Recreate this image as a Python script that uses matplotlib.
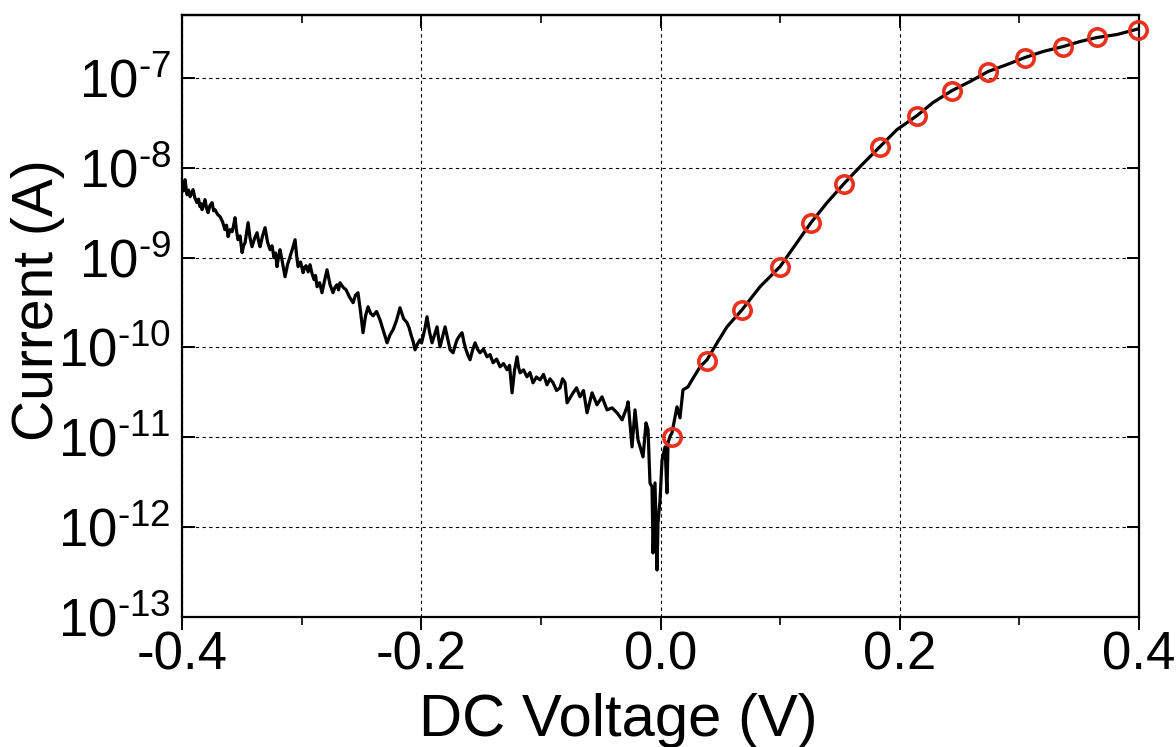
import numpy as np
import matplotlib
matplotlib.use("Agg")
import matplotlib.pyplot as plt
from matplotlib.ticker import LogLocator, MultipleLocator, NullFormatter, FixedLocator

plt.rcParams['font.family'] = ['Liberation Sans', 'DejaVu Sans']
plt.rcParams['mathtext.fontset'] = 'custom'
plt.rcParams['mathtext.rm'] = 'Liberation Sans'
plt.rcParams['mathtext.it'] = 'Liberation Sans'
plt.rcParams['axes.unicode_minus'] = False

# measured I-V sweep: voltage (V) and log10 of current (A)
v_line = [-0.4000, -0.3988, -0.3975, -0.3966, -0.3958, -0.3945, -0.3933, -0.3920, -0.3908, -0.3892,
          -0.3875, -0.3862, -0.3850, -0.3841, -0.3833, -0.3820, -0.3808, -0.3795, -0.3783, -0.3766,
          -0.3749, -0.3736, -0.3724, -0.3703, -0.3682, -0.3662, -0.3641, -0.3628, -0.3615, -0.3598,
          -0.3582, -0.3570, -0.3557, -0.3545, -0.3532, -0.3515, -0.3498, -0.3486, -0.3473, -0.3460,
          -0.3448, -0.3432, -0.3415, -0.3394, -0.3373, -0.3360, -0.3348, -0.3327, -0.3306, -0.3285,
          -0.3264, -0.3248, -0.3231, -0.3218, -0.3206, -0.3194, -0.3181, -0.3160, -0.3139, -0.3118,
          -0.3097, -0.3076, -0.3055, -0.3042, -0.3030, -0.3009, -0.2988, -0.2976, -0.2963, -0.2946,
          -0.2930, -0.2913, -0.2896, -0.2884, -0.2871, -0.2850, -0.2830, -0.2809, -0.2788, -0.2763,
          -0.2738, -0.2721, -0.2704, -0.2692, -0.2679, -0.2654, -0.2629, -0.2600, -0.2570, -0.2550,
          -0.2529, -0.2508, -0.2487, -0.2466, -0.2445, -0.2424, -0.2403, -0.2374, -0.2345, -0.2316,
          -0.2286, -0.2261, -0.2236, -0.2207, -0.2178, -0.2148, -0.2119, -0.2102, -0.2086, -0.2069,
          -0.2052, -0.2031, -0.2010, -0.1998, -0.1985, -0.1968, -0.1952, -0.1931, -0.1910, -0.1889,
          -0.1868, -0.1855, -0.1843, -0.1822, -0.1801, -0.1780, -0.1759, -0.1734, -0.1717, -0.1701,
          -0.1680, -0.1659, -0.1642, -0.1626, -0.1609, -0.1592, -0.1571, -0.1550, -0.1530, -0.1509,
          -0.1480, -0.1450, -0.1425, -0.1400, -0.1370, -0.1341, -0.1312, -0.1283, -0.1262, -0.1241,
          -0.1220, -0.1199, -0.1187, -0.1174, -0.1145, -0.1116, -0.1091, -0.1066, -0.1037, -0.1007,
          -0.0978, -0.0949, -0.0924, -0.0898, -0.0869, -0.0840, -0.0819, -0.0798, -0.0781, -0.0731,
          -0.0702, -0.0673, -0.0644, -0.0614, -0.0572, -0.0531, -0.0489, -0.0447, -0.0405, -0.0363,
          -0.0321, -0.0280, -0.0271, -0.0238, -0.0213, -0.0188, -0.0146, -0.0121, -0.0104, -0.0088,
          -0.0071, -0.0062, -0.0046, -0.0029, -0.0021, -0.0004, 0.0013, 0.0038, 0.0054, 0.0063,
          0.0080, 0.0096, 0.0138, 0.0163, 0.0188, 0.0230, 0.0264, 0.0331, 0.0389, 0.0473,
          0.0556, 0.0682, 0.0832, 0.0999, 0.1258, 0.1392, 0.1534, 0.1685, 0.1835, 0.1977,
          0.2145, 0.2278, 0.2437, 0.2588, 0.2738, 0.2897, 0.3047, 0.3198, 0.3365, 0.3507,
          0.3649, 0.3817, 0.4000]
log_i_line = [-8.189, -8.260, -8.134, -8.230, -8.301, -8.250, -8.323, -8.290, -8.245, -8.340,
              -8.390, -8.350, -8.434, -8.400, -8.468, -8.420, -8.356, -8.450, -8.501, -8.420,
              -8.390, -8.480, -8.468, -8.520, -8.546, -8.600, -8.690, -8.640, -8.768, -8.690,
              -8.713, -8.650, -8.557, -8.700, -8.802, -8.760, -8.946, -8.870, -8.835, -8.720,
              -8.612, -8.780, -8.880, -8.790, -8.724, -8.820, -8.880, -8.760, -8.668, -8.830,
              -8.913, -8.870, -9.002, -8.950, -9.102, -9.000, -8.913, -9.060, -9.214, -9.080,
              -8.991, -8.900, -8.802, -8.980, -9.102, -9.050, -9.169, -9.110, -9.091, -9.160,
              -9.080, -9.180, -9.247, -9.200, -9.325, -9.280, -9.392, -9.260, -9.136, -9.300,
              -9.392, -9.330, -9.303, -9.360, -9.281, -9.330, -9.359, -9.440, -9.503, -9.420,
              -9.392, -9.600, -9.837, -9.650, -9.548, -9.620, -9.648, -9.600, -9.693, -9.820,
              -9.949, -9.860, -9.804, -9.700, -9.559, -9.680, -9.726, -9.780, -9.860, -9.930,
              -10.027, -9.960, -9.915, -9.950, -9.882, -9.780, -9.659, -9.830, -9.949, -9.860,
              -9.771, -9.900, -9.993, -9.880, -9.771, -9.900, -10.027, -10.060, -9.980, -9.915,
              -9.870, -9.837, -9.950, -10.027, -10.090, -10.138, -10.030, -9.949, -10.020, -10.060,
              -10.020, -10.105, -10.080, -10.171, -10.130, -10.216, -10.180, -10.249, -10.200, -10.506,
              -10.250, -10.105, -10.220, -10.283, -10.250, -10.327, -10.280, -10.394, -10.330, -10.361,
              -10.300, -10.416, -10.350, -10.394, -10.480, -10.450, -10.350, -10.394, -10.617, -10.506,
              -10.450, -10.550, -10.480, -10.728, -10.506, -10.639, -10.550, -10.695, -10.673, -10.728,
              -10.806, -10.661, -10.606, -11.107, -10.695, -11.029, -11.218, -10.840, -10.918, -11.508,
              -11.552, -12.287, -11.508, -12.477, -11.953, -11.697, -11.252, -11.107, -11.619, -11.062,
              -10.990, -10.950, -10.661, -10.784, -10.472, -10.439, -10.361, -10.216, -10.138, -9.949,
              -9.771, -9.581, -9.325, -9.102, -8.612, -8.390, -8.178, -7.967, -7.766, -7.577,
              -7.421, -7.276, -7.143, -7.042, -6.931, -6.853, -6.775, -6.708, -6.653, -6.597,
              -6.552, -6.519, -6.454]

# fitted points (red circles)
v_fit = [0.0096, 0.0389, 0.0682, 0.0999, 0.1258, 0.1534, 0.1835, 0.2145, 0.2437, 0.2738,
         0.3047, 0.3365, 0.3649, 0.3992]
i_fit = [1.0e-11, 7.1e-11, 2.6e-10, 7.9e-10, 2.44e-9, 6.6e-9, 1.71e-8, 3.8e-8, 7.2e-8, 1.17e-7,
         1.68e-7, 2.22e-7, 2.81e-7, 3.44e-7]

x_ticks = [-0.4, -0.2, 0.0, 0.2, 0.4]
x_labels = ['-0.4', '-0.2', '0.0', '0.2', '0.4']
y_decades = [1e-13, 1e-12, 1e-11, 1e-10, 1e-9, 1e-8, 1e-7]
y_labels = ['10$^{\\text{-13}}$', '10$^{\\text{-12}}$', '10$^{\\text{-11}}$', '10$^{\\text{-10}}$',
            '10$^{\\text{-9}}$', '10$^{\\text{-8}}$', '10$^{\\text{-7}}$']

fig = plt.figure(figsize=(11.76, 7.47), dpi=100)
ax = fig.add_axes([0.1548, 0.174, 0.8137, 0.806])

i_line = 10 ** np.array(log_i_line)
ax.plot(v_line, i_line, color='black', lw=2.3, zorder=3)
ax.plot(v_fit, i_fit, 'o', mfc='none', mec='#e8321e', ms=12.5, mew=2.6, zorder=4, clip_on=False)

ax.set_yscale('log')
ax.set_xlim(-0.4, 0.4)
ax.set_ylim(1e-13, 5.0e-7)

ax.set_xticks(x_ticks)
ax.set_xticklabels(x_labels)
ax.xaxis.set_minor_locator(MultipleLocator(0.1))
ax.yaxis.set_major_locator(FixedLocator(y_decades))
ax.set_yticklabels(y_labels)
ax.yaxis.set_minor_locator(LogLocator(base=10, subs=np.arange(2, 10)))
ax.yaxis.set_minor_formatter(NullFormatter())

ax.grid(True, which='major', color='black', ls=(0, (3, 3)), lw=0.8)

ax.tick_params(axis='y', which='major', direction='in', left=True, right=True, length=9, width=1.4,
               labelsize=38, pad=8)
ax.tick_params(axis='y', which='minor', direction='in', left=True, right=True, length=5, width=1.2)
ax.tick_params(axis='x', which='major', direction='out', length=9.5, width=1.4, labelsize=38, pad=0)
ax.tick_params(axis='x', which='minor', direction='out', length=6, width=1.2)

top = ax.secondary_xaxis('top')
top.set_xticks(x_ticks)
top.xaxis.set_minor_locator(MultipleLocator(0.1))
top.tick_params(axis='x', which='major', direction='in', length=9, width=1.4, labeltop=False)
top.tick_params(axis='x', which='minor', direction='in', length=6, width=1.2)

for s in ax.spines.values():
    s.set_linewidth(1.6)
top.spines['top'].set_linewidth(1.6)

ax.set_xlabel('DC Voltage (V)', fontsize=43, va='top')
ax.set_ylabel('Current (A)', fontsize=41)
ax.xaxis.set_label_coords(0.4556, -0.127)
ax.yaxis.set_label_coords(-0.122, 0.527)

fig.savefig('out.png', dpi=100)
